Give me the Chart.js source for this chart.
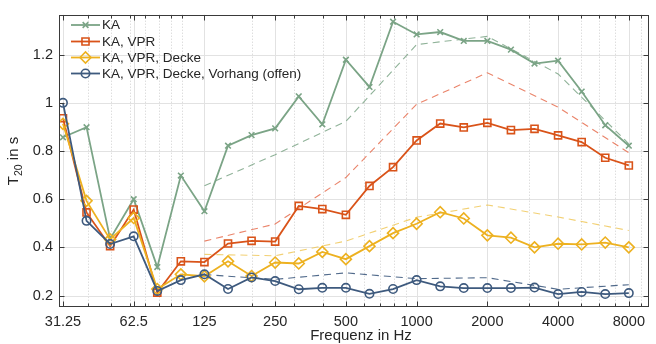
<!DOCTYPE html>
<html>
<head>
<meta charset="utf-8">
<script src="https://cdn.jsdelivr.net/npm/chart.js@4.4.0/dist/chart.umd.min.js"></script>
<style>
  html, body { margin: 0; padding: 0; background: #fff; }
</style>
</head>
<body>
<canvas id="grafico" width="656" height="344"></canvas>
<script>
// Terzbänder (Hz)
const frecuencias = [31.25, 39.37, 49.61, 62.5, 78.75, 99.21, 125, 157.5, 198.4, 250, 315, 396.9,
  500, 630, 793.7, 1000, 1260, 1587, 2000, 2520, 3175, 4000, 5040, 6350, 8000];
// Oktavbänder für die gestrichelten Kurven
const oktaven = [125, 250, 500, 1000, 2000, 4000, 8000];

const valoresKA = [0.857, 0.899, 0.435, 0.600, 0.318, 0.698, 0.550, 0.822, 0.866, 0.894, 1.027, 0.911,
  1.179, 1.066, 1.337, 1.284, 1.294, 1.257, 1.257, 1.221, 1.163, 1.175, 1.047, 0.907, 0.822];
const valoresVPR = [0.936, 0.545, 0.405, 0.557, 0.212, 0.342, 0.339, 0.416, 0.427, 0.424, 0.572, 0.559,
  0.535, 0.655, 0.733, 0.844, 0.914, 0.898, 0.917, 0.887, 0.892, 0.865, 0.837, 0.772, 0.740];
const valoresDecke = [0.913, 0.593, 0.433, 0.522, 0.227, 0.288, 0.280, 0.342, 0.281, 0.337, 0.333, 0.381,
  0.351, 0.405, 0.459, 0.498, 0.546, 0.520, 0.450, 0.440, 0.400, 0.415, 0.412, 0.420, 0.400];
const valoresVorhang = [1.000, 0.510, 0.414, 0.446, 0.219, 0.264, 0.288, 0.227, 0.275, 0.260, 0.226, 0.232,
  0.232, 0.207, 0.227, 0.264, 0.238, 0.231, 0.231, 0.231, 0.233, 0.206, 0.215, 0.206, 0.210];

const oktKA = [0.656, 0.785, 0.923, 1.242, 1.276, 1.120, 0.830];
const oktVPR = [0.426, 0.497, 0.690, 0.994, 1.125, 0.982, 0.793];
const oktDecke = [0.371, 0.365, 0.426, 0.525, 0.576, 0.526, 0.470];
const oktVorhang = [0.287, 0.267, 0.294, 0.270, 0.274, 0.226, 0.245];

const etiquetasX = [31.25, 62.5, 125, 250, 500, 1000, 2000, 4000, 8000];
const textosX = ["31.25", "62.5", "125", "250", "500", "1000", "2000", "4000", "8000"];
const menoresX = [40, 50, 60, 70, 80, 90, 100, 200, 300, 400, 600, 700, 800, 900, 3000, 5000, 6000, 7000, 9000];
const etiquetasY = [0.2, 0.4, 0.6, 0.8, 1, 1.2];
const nombres = ["KA", "KA, VPR", "KA, VPR, Decke", "KA, VPR, Decke, Vorhang (offen)"];

const colores = ["#7ba486", "#d95319", "#edb120", "#3e5a7e"];
const coloresDash = ["rgba(123,164,134,0.85)", "rgba(230,110,80,0.85)", "rgba(240,200,90,0.85)", "rgba(62,90,126,0.9)"];
const estilos = ["crossRot", "rect", "rectRot", "circle"];
const radios = [4, 5, 5.5, 4.2];

const fuente = '"Liberation Sans", Arial, Helvetica, sans-serif';

function puntos(xs, ys) {
  return xs.map((x, i) => ({ x: x, y: ys[i] }));
}

const series = [valoresKA, valoresVPR, valoresDecke, valoresVorhang];
const seriesOkt = [oktKA, oktVPR, oktDecke, oktVorhang];

const datasets = [];
series.forEach((s, i) => {
  datasets.push({
    label: nombres[i],
    data: puntos(frecuencias, s),
    borderColor: colores[i],
    backgroundColor: "rgba(0,0,0,0)",
    borderWidth: 1.8,
    pointStyle: estilos[i],
    pointRadius: radios[i],
    pointBorderWidth: 1.6,
    pointBorderColor: colores[i],
    pointBackgroundColor: "rgba(0,0,0,0)",
    order: 4 - i,
  });
});
seriesOkt.forEach((s, i) => {
  datasets.push({
    label: nombres[i] + " (Oktav)",
    data: puntos(oktaven, s),
    borderColor: coloresDash[i],
    borderWidth: 1.1,
    borderDash: [7, 5],
    pointRadius: 0,
    fill: false,
    order: 10 - i,
  });
});

const marco = {
  id: "marco",
  beforeDatasetsDraw(chart) {
    const ctx = chart.ctx;
    const a = chart.chartArea;
    const sx = chart.scales.x;
    const sy = chart.scales.y;
    ctx.save();
    ctx.lineWidth = 1;
    // kleine Gitterlinien
    ctx.strokeStyle = "#cfcfcf";
    ctx.setLineDash([1, 2]);
    menoresX.forEach((v) => {
      const px = Math.round(sx.getPixelForValue(v)) + 0.5;
      ctx.beginPath();
      ctx.moveTo(px, a.top);
      ctx.lineTo(px, a.bottom);
      ctx.stroke();
    });
    ctx.setLineDash([]);
    ctx.strokeStyle = "#e2e2e2";
    etiquetasX.forEach((v) => {
      const px = Math.round(sx.getPixelForValue(v)) + 0.5;
      ctx.beginPath();
      ctx.moveTo(px, a.top);
      ctx.lineTo(px, a.bottom);
      ctx.stroke();
    });
    etiquetasY.forEach((v) => {
      const py = Math.round(sy.getPixelForValue(v)) + 0.5;
      ctx.beginPath();
      ctx.moveTo(a.left, py);
      ctx.lineTo(a.right, py);
      ctx.stroke();
    });
    ctx.restore();
  },
  afterDatasetsDraw(chart) {
    const ctx = chart.ctx;
    const a = chart.chartArea;
    const sx = chart.scales.x;
    const sy = chart.scales.y;
    ctx.save();
    ctx.strokeStyle = "#3a3a3a";
    ctx.lineWidth = 1;
    const l = Math.round(a.left) + 0.5, r = Math.round(a.right) - 0.5;
    const t = Math.round(a.top) + 0.5, b = Math.round(a.bottom) + 0.5;
    ctx.strokeRect(l, t, r - l, b - t);
    // Ticks
    ctx.beginPath();
    etiquetasX.forEach((v) => {
      const px = Math.round(sx.getPixelForValue(v)) + 0.5;
      ctx.moveTo(px, b); ctx.lineTo(px, b - 5);
      ctx.moveTo(px, t); ctx.lineTo(px, t + 5);
    });
    menoresX.forEach((v) => {
      const px = Math.round(sx.getPixelForValue(v)) + 0.5;
      ctx.moveTo(px, b); ctx.lineTo(px, b - 3);
      ctx.moveTo(px, t); ctx.lineTo(px, t + 3);
    });
    etiquetasY.forEach((v) => {
      const py = Math.round(sy.getPixelForValue(v)) + 0.5;
      ctx.moveTo(l, py); ctx.lineTo(l + 5, py);
      ctx.moveTo(r, py); ctx.lineTo(r - 5, py);
    });
    ctx.stroke();

    // Legende
    const lx0 = 71, lx1 = 100;
    const filas = [25, 41.5, 57.5, 73.5];
    ctx.font = "13.5px " + fuente;
    ctx.textBaseline = "middle";
    ctx.textAlign = "left";
    nombres.forEach((n, i) => {
      const y = filas[i];
      ctx.strokeStyle = colores[i];
      ctx.lineWidth = 1.8;
      ctx.beginPath();
      ctx.moveTo(lx0, y);
      ctx.lineTo(lx1, y);
      ctx.stroke();
      ctx.fillStyle = "rgba(0,0,0,0)";
      ctx.lineWidth = 1.6;
      Chart.helpers.drawPoint(ctx, { pointStyle: estilos[i], radius: radios[i], borderWidth: 1.6, rotation: 0 }, (lx0 + lx1) / 2, y);
      ctx.fillStyle = "#262626";
      ctx.fillText(n, 102, y + 0.5);
    });

    // Achsentitel
    ctx.fillStyle = "#262626";
    ctx.font = "15px " + fuente;
    ctx.textAlign = "center";
    ctx.textBaseline = "middle";
    ctx.fillText("Frequenz in Hz", 361, 336);

    ctx.translate(14, 161);
    ctx.rotate(-Math.PI / 2);
    ctx.textAlign = "left";
    ctx.font = "15px " + fuente;
    const wT = ctx.measureText("T").width;
    ctx.font = "10.5px " + fuente;
    const w20 = ctx.measureText("20").width;
    ctx.font = "15px " + fuente;
    const wRest = ctx.measureText(" in s").width;
    let x0 = -(wT + w20 + wRest) / 2;
    ctx.fillText("T", x0, 0);
    ctx.font = "10.5px " + fuente;
    ctx.fillText("20", x0 + wT, 5);
    ctx.font = "15px " + fuente;
    ctx.fillText(" in s", x0 + wT + w20, 0);
    ctx.restore();
  },
};

const ctx = document.getElementById("grafico").getContext("2d");
window.miGrafico = new Chart(ctx, {
  type: "line",
  data: { datasets: datasets },
  options: {
    responsive: false,
    animation: false,
    devicePixelRatio: 1,
    layout: { padding: { top: 13, right: 0, left: 0, bottom: 0 } },
    plugins: {
      legend: { display: false },
      tooltip: { enabled: false },
    },
    scales: {
      x: {
        type: "logarithmic",
        min: 30.06,
        max: 9740,
        grid: { display: false, drawTicks: false },
        border: { display: false },
        afterBuildTicks: (scale) => {
          scale.ticks = etiquetasX.map((v) => ({ value: v }));
        },
        afterFit: (scale) => {
          scale.height = 38;
        },
        ticks: {
          autoSkip: false,
          maxRotation: 0,
          padding: 7,
          color: "#262626",
          font: { family: fuente, size: 14.5 },
          callback: (v) => {
            const i = etiquetasX.indexOf(v);
            return i >= 0 ? textosX[i] : "";
          },
        },
      },
      y: {
        type: "linear",
        min: 0.1565,
        max: 1.366,
        grid: { display: false, drawTicks: false },
        border: { display: false },
        afterBuildTicks: (scale) => {
          scale.ticks = etiquetasY.map((v) => ({ value: v }));
        },
        afterFit: (scale) => {
          scale.width = 59;
        },
        ticks: {
          padding: 6,
          color: "#262626",
          font: { family: fuente, size: 14.5 },
          callback: (v) => String(+v.toFixed(1)),
        },
      },
    },
  },
  plugins: [marco],
});
</script>
</body>
</html>
